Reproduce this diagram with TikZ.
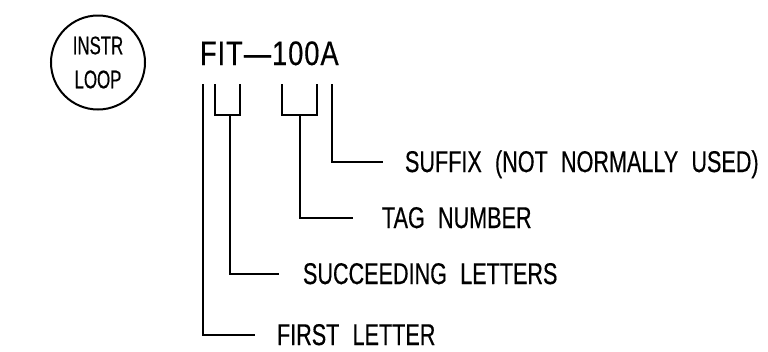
\documentclass[tikz,border=0pt]{standalone}
\usepackage{fontspec}
\usepackage{tikz}
\newfontfamily\cadfont[FakeStretch=0.72,WordSpace=2.2,FakeBold=0.4]{Liberation Sans}
\newfontfamily\tagfont[FakeStretch=0.8,LetterSpace=3,FakeBold=0.4]{Liberation Sans}
\newfontfamily\loopfont[FakeStretch=0.66,FakeBold=0.4]{Liberation Sans}
\tikzset{
  lbl/.style={anchor=base west,inner sep=0pt,outer sep=0pt,text height=20bp,text depth=0bp,
    font=\cadfont\fontsize{30bp}{36bp}\selectfont},
  lead/.style={line width=2bp}
}

\begin{document}
\begin{tikzpicture}[x=1bp,y=-1bp,inner sep=0pt,outer sep=0pt]
  \useasboundingbox (0,0) rectangle (768,351);
  \node[draw,circle,line width=2bp,minimum size=94bp,align=center,
    font=\loopfont\fontsize{25.5bp}{34bp}\selectfont] (loop) at (98,62.5) {INSTR\\LOOP};
  \node[anchor=base west,font=\tagfont\fontsize{34bp}{40bp}\selectfont] (tag) at (200,65) {FIT—100A};
  \node[lbl] (suffix) at (405,172) {SUFFIX (NOT NORMALLY USED)};
  \node[lbl] (number) at (382,228) {TAG NUMBER};
  \node[lbl] (succ) at (303,284) {SUCCEEDING LETTERS};
  \node[lbl] (first) at (277,345) {FIRST LETTER};
  \coordinate (f) at (203,84);
  \coordinate (it) at (230,115);
  \coordinate (num) at (300,115);
  \coordinate (a) at (332,84);
  \draw[lead] (215,84) -- (215,115) -- (240,115) -- (240,84);
  \draw[lead] (282,84) -- (282,115) -- (317,115) -- (317,84);
  \draw[lead] (f) |- ([xshift=-22bp]first.west);
  \draw[lead] (it) |- ([xshift=-24bp]succ.west);
  \draw[lead] (num) |- ([xshift=-29bp]number.west);
  \draw[lead] (a) |- ([xshift=-22bp]suffix.west);
\end{tikzpicture}
\end{document}
